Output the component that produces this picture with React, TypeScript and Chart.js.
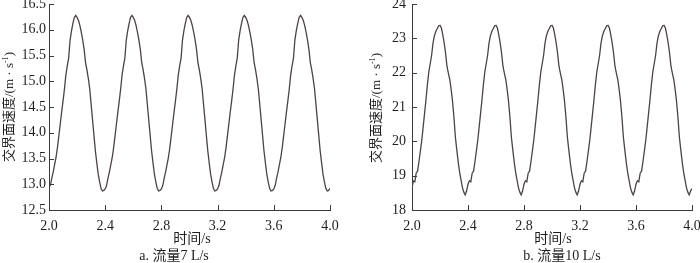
import React, { useEffect, useRef } from 'react';
import { Chart, registerables } from 'chart.js';

Chart.register(...registerables);

// time axis (s)
const timeS = [
  2.00, 2.01, 2.02, 2.03, 2.04, 2.05, 2.06, 2.07, 2.08, 2.09,
  2.10, 2.11, 2.12, 2.13, 2.14, 2.15, 2.16, 2.17, 2.18, 2.19,
  2.20, 2.21, 2.22, 2.23, 2.24, 2.25, 2.26, 2.27, 2.28, 2.29,
  2.30, 2.31, 2.32, 2.33, 2.34, 2.35, 2.36, 2.37, 2.38, 2.39,
  2.40, 2.41, 2.42, 2.43, 2.44, 2.45, 2.46, 2.47, 2.48, 2.49,
  2.50, 2.51, 2.52, 2.53, 2.54, 2.55, 2.56, 2.57, 2.58, 2.59,
  2.60, 2.61, 2.62, 2.63, 2.64, 2.65, 2.66, 2.67, 2.68, 2.69,
  2.70, 2.71, 2.72, 2.73, 2.74, 2.75, 2.76, 2.77, 2.78, 2.79,
  2.80, 2.81, 2.82, 2.83, 2.84, 2.85, 2.86, 2.87, 2.88, 2.89,
  2.90, 2.91, 2.92, 2.93, 2.94, 2.95, 2.96, 2.97, 2.98, 2.99,
  3.00, 3.01, 3.02, 3.03, 3.04, 3.05, 3.06, 3.07, 3.08, 3.09,
  3.10, 3.11, 3.12, 3.13, 3.14, 3.15, 3.16, 3.17, 3.18, 3.19,
  3.20, 3.21, 3.22, 3.23, 3.24, 3.25, 3.26, 3.27, 3.28, 3.29,
  3.30, 3.31, 3.32, 3.33, 3.34, 3.35, 3.36, 3.37, 3.38, 3.39,
  3.40, 3.41, 3.42, 3.43, 3.44, 3.45, 3.46, 3.47, 3.48, 3.49,
  3.50, 3.51, 3.52, 3.53, 3.54, 3.55, 3.56, 3.57, 3.58, 3.59,
  3.60, 3.61, 3.62, 3.63, 3.64, 3.65, 3.66, 3.67, 3.68, 3.69,
  3.70, 3.71, 3.72, 3.73, 3.74, 3.75, 3.76, 3.77, 3.78, 3.79,
  3.80, 3.81, 3.82, 3.83, 3.84, 3.85, 3.86, 3.87, 3.88, 3.89,
  3.90, 3.91, 3.92, 3.93, 3.94, 3.95, 3.96, 3.97, 3.98, 3.99,
  4.00,
];

// a. flow 7 L/s — interface velocity (m/s)
const speed7 = [
  12.95, 12.98, 13.12, 13.24, 13.38, 13.52, 13.71, 13.94, 14.17, 14.40,
  14.62, 14.85, 15.12, 15.30, 15.45, 15.80, 15.98, 16.12, 16.24, 16.28,
  16.24, 16.18, 16.08, 15.95, 15.80, 15.62, 15.36, 15.22, 15.05, 14.85,
  14.55, 14.25, 13.95, 13.65, 13.42, 13.20, 13.05, 12.92, 12.87, 12.88,
  12.91, 12.98, 13.12, 13.24, 13.38, 13.52, 13.71, 13.94, 14.17, 14.40,
  14.62, 14.85, 15.12, 15.30, 15.45, 15.80, 15.98, 16.12, 16.24, 16.28,
  16.24, 16.18, 16.08, 15.95, 15.80, 15.62, 15.36, 15.22, 15.05, 14.85,
  14.55, 14.25, 13.95, 13.65, 13.42, 13.20, 13.05, 12.92, 12.87, 12.88,
  12.91, 12.98, 13.12, 13.24, 13.38, 13.52, 13.71, 13.94, 14.17, 14.40,
  14.62, 14.85, 15.12, 15.30, 15.45, 15.80, 15.98, 16.12, 16.24, 16.28,
  16.24, 16.18, 16.08, 15.95, 15.80, 15.62, 15.36, 15.22, 15.05, 14.85,
  14.55, 14.25, 13.95, 13.65, 13.42, 13.20, 13.05, 12.92, 12.87, 12.88,
  12.91, 12.98, 13.12, 13.24, 13.38, 13.52, 13.71, 13.94, 14.17, 14.40,
  14.62, 14.85, 15.12, 15.30, 15.45, 15.80, 15.98, 16.12, 16.24, 16.28,
  16.24, 16.18, 16.08, 15.95, 15.80, 15.62, 15.36, 15.22, 15.05, 14.85,
  14.55, 14.25, 13.95, 13.65, 13.42, 13.20, 13.05, 12.92, 12.87, 12.88,
  12.91, 12.98, 13.12, 13.24, 13.38, 13.52, 13.71, 13.94, 14.17, 14.40,
  14.62, 14.85, 15.12, 15.30, 15.45, 15.80, 15.98, 16.12, 16.24, 16.28,
  16.24, 16.18, 16.08, 15.95, 15.80, 15.62, 15.36, 15.22, 15.05, 14.85,
  14.55, 14.25, 13.95, 13.65, 13.42, 13.20, 13.05, 12.92, 12.87, 12.88,
  12.92,
];

// b. flow 10 L/s — interface velocity (m/s)
const speed10 = [
  18.65, 18.85, 18.82, 19.08, 19.13, 19.42, 19.72, 20.04, 20.43, 20.82,
  21.22, 21.65, 22.02, 22.26, 22.50, 22.86, 23.07, 23.20, 23.28, 23.36,
  23.38, 23.30, 23.10, 22.86, 22.56, 22.18, 21.98, 21.80, 21.50, 21.15,
  20.68, 20.12, 19.75, 19.40, 19.10, 18.88, 18.66, 18.52, 18.44, 18.56,
  18.75, 18.85, 18.82, 19.08, 19.13, 19.42, 19.72, 20.04, 20.43, 20.82,
  21.22, 21.65, 22.02, 22.26, 22.50, 22.86, 23.07, 23.20, 23.28, 23.36,
  23.38, 23.30, 23.10, 22.86, 22.56, 22.18, 21.98, 21.80, 21.50, 21.15,
  20.68, 20.12, 19.75, 19.40, 19.10, 18.88, 18.66, 18.52, 18.44, 18.56,
  18.75, 18.85, 18.82, 19.08, 19.13, 19.42, 19.72, 20.04, 20.43, 20.82,
  21.22, 21.65, 22.02, 22.26, 22.50, 22.86, 23.07, 23.20, 23.28, 23.36,
  23.38, 23.30, 23.10, 22.86, 22.56, 22.18, 21.98, 21.80, 21.50, 21.15,
  20.68, 20.12, 19.75, 19.40, 19.10, 18.88, 18.66, 18.52, 18.44, 18.56,
  18.75, 18.85, 18.82, 19.08, 19.13, 19.42, 19.72, 20.04, 20.43, 20.82,
  21.22, 21.65, 22.02, 22.26, 22.50, 22.86, 23.07, 23.20, 23.28, 23.36,
  23.38, 23.30, 23.10, 22.86, 22.56, 22.18, 21.98, 21.80, 21.50, 21.15,
  20.68, 20.12, 19.75, 19.40, 19.10, 18.88, 18.66, 18.52, 18.44, 18.56,
  18.75, 18.85, 18.82, 19.08, 19.13, 19.42, 19.72, 20.04, 20.43, 20.82,
  21.22, 21.65, 22.02, 22.26, 22.50, 22.86, 23.07, 23.20, 23.28, 23.36,
  23.38, 23.30, 23.10, 22.86, 22.56, 22.18, 21.98, 21.80, 21.50, 21.15,
  20.68, 20.12, 19.75, 19.40, 19.10, 18.88, 18.66, 18.52, 18.44, 18.56,
  18.62,
];

const xTickValues = [2.0, 2.4, 2.8, 3.2, 3.6, 4.0];
const yTicks7 = [12.5, 13.0, 13.5, 14.0, 14.5, 15.0, 15.5, 16.0, 16.5];
const yTicks10 = [18, 19, 20, 21, 22, 23, 24];

const xTitle = '时间/s';
const yTitleMain = '交界面速度/(m · s';
const yTitleSup = '-1';
const captionA = 'a. 流量7 L/s';
const captionB = 'b. 流量10 L/s';

const LINE = '#4d4343';
const AXIS = '#3a3a3a';
const TEXT = '#1e1e1e';
const SERIF = "'Liberation Serif', 'Times New Roman', serif";
const MIXED = "'Liberation Serif', 'Noto Sans CJK SC', serif";

const innerTicks = {
  id: 'innerTicks',
  afterDraw(chart: any) {
    const { ctx, chartArea: a, scales } = chart;
    const xs = scales.x;
    const ys = scales.y;
    ctx.save();
    ctx.strokeStyle = AXIS;
    ctx.lineWidth = 1;
    ctx.beginPath();
    xs.ticks.forEach((t: any) => {
      const px = Math.round(xs.getPixelForValue(t.value)) + 0.5;
      ctx.moveTo(px, a.bottom);
      ctx.lineTo(px, a.bottom - 5);
    });
    ys.ticks.forEach((t: any) => {
      const py = Math.round(ys.getPixelForValue(t.value)) + 0.5;
      ctx.moveTo(a.left, py);
      ctx.lineTo(a.left + 5, py);
    });
    ctx.stroke();
    ctx.restore();
  },
};

function makeConfig(
  values: number[],
  yTicks: number[],
  decimals: number,
  yWidth: number,
  padRight: number,
  yLabelPad: number
): any {
  return {
    type: 'line',
    data: {
      labels: timeS,
      datasets: [
        {
          data: values,
          borderColor: LINE,
          borderWidth: 1.3,
          pointRadius: 0,
          tension: 0,
          fill: false,
        },
      ],
    },
    options: {
      responsive: false,
      maintainAspectRatio: false,
      animation: false,
      layout: { autoPadding: false, padding: { left: 0, right: padRight, top: 4, bottom: 0 } },
      plugins: { legend: { display: false }, tooltip: { enabled: false } },
      scales: {
        x: {
          type: 'linear',
          min: 2,
          max: 4,
          grid: { display: false, drawTicks: false },
          border: { display: true, color: AXIS, width: 1 },
          ticks: {
            autoSkip: false,
            maxRotation: 0,
            padding: 8,
            color: TEXT,
            font: { family: SERIF, size: 14 },
            callback: (v: any) => Number(v).toFixed(1),
          },
          afterBuildTicks: (s: any) => {
            s.ticks = xTickValues.map((v) => ({ value: v }));
          },
          afterFit: (s: any) => {
            s.height = 53;
            s.paddingLeft = 0;
            s.paddingRight = 0;
          },
        },
        y: {
          type: 'linear',
          min: yTicks[0],
          max: yTicks[yTicks.length - 1],
          grid: { display: false, drawTicks: false },
          border: { display: true, color: AXIS, width: 1 },
          ticks: {
            autoSkip: false,
            padding: yLabelPad,
            color: TEXT,
            font: { family: SERIF, size: 14 },
            callback: (v: any) => Number(v).toFixed(decimals),
          },
          afterBuildTicks: (s: any) => {
            s.ticks = yTicks.map((v) => ({ value: v }));
          },
          afterFit: (s: any) => {
            s.width = yWidth;
            s.paddingTop = 0;
            s.paddingBottom = 0;
          },
        },
      },
    },
    plugins: [innerTicks],
  };
}

const textBase: React.CSSProperties = {
  position: 'absolute',
  whiteSpace: 'nowrap',
  color: TEXT,
  fontFamily: MIXED,
  fontSize: 14,
  lineHeight: '16px',
  transform: 'translate(-50%, -50%)',
  pointerEvents: 'none',
};

function YTitle({ cx, cy }: { cx: number; cy: number }) {
  return (
    <div
      style={{
        ...textBase,
        left: cx,
        top: cy,
        fontSize: 13,
        transform: 'translate(-50%, -50%) rotate(-90deg)',
      }}
    >
      {yTitleMain}
      <sup style={{ fontSize: 8, verticalAlign: 'top', position: 'relative', top: -3 }}>{yTitleSup}</sup>
      {')'}
    </div>
  );
}

export default function App() {
  const refA = useRef<HTMLCanvasElement | null>(null);
  const refB = useRef<HTMLCanvasElement | null>(null);

  useEffect(() => {
    const prevMargin = document.body.style.margin;
    document.body.style.margin = '0';
    const a = new Chart(refA.current as HTMLCanvasElement, makeConfig(speed7, yTicks7, 1, 49, 20, 3));
    const b = new Chart(refB.current as HTMLCanvasElement, makeConfig(speed10, yTicks10, 0, 62, 8, 6));
    return () => {
      a.destroy();
      b.destroy();
      document.body.style.margin = prevMargin;
    };
  }, []);

  return (
    <div
      style={{
        position: 'absolute',
        left: 0,
        top: 0,
        width: 700,
        height: 263,
        background: '#ffffff',
        overflow: 'hidden',
      }}
    >
      <canvas
        ref={refA}
        width={350}
        height={263}
        style={{ position: 'absolute', left: 0, top: 0, width: 350, height: 263 }}
      />
      <canvas
        ref={refB}
        width={350}
        height={263}
        style={{ position: 'absolute', left: 350, top: 0, width: 350, height: 263 }}
      />
      <YTitle cx={9} cy={107} />
      <YTitle cx={376} cy={108} />
      <div style={{ ...textBase, left: 192, top: 239 }}>{xTitle}</div>
      <div style={{ ...textBase, left: 553, top: 239 }}>{xTitle}</div>
      <div style={{ ...textBase, left: 174, top: 256 }}>{captionA}</div>
      <div style={{ ...textBase, left: 562, top: 256 }}>{captionB}</div>
    </div>
  );
}
